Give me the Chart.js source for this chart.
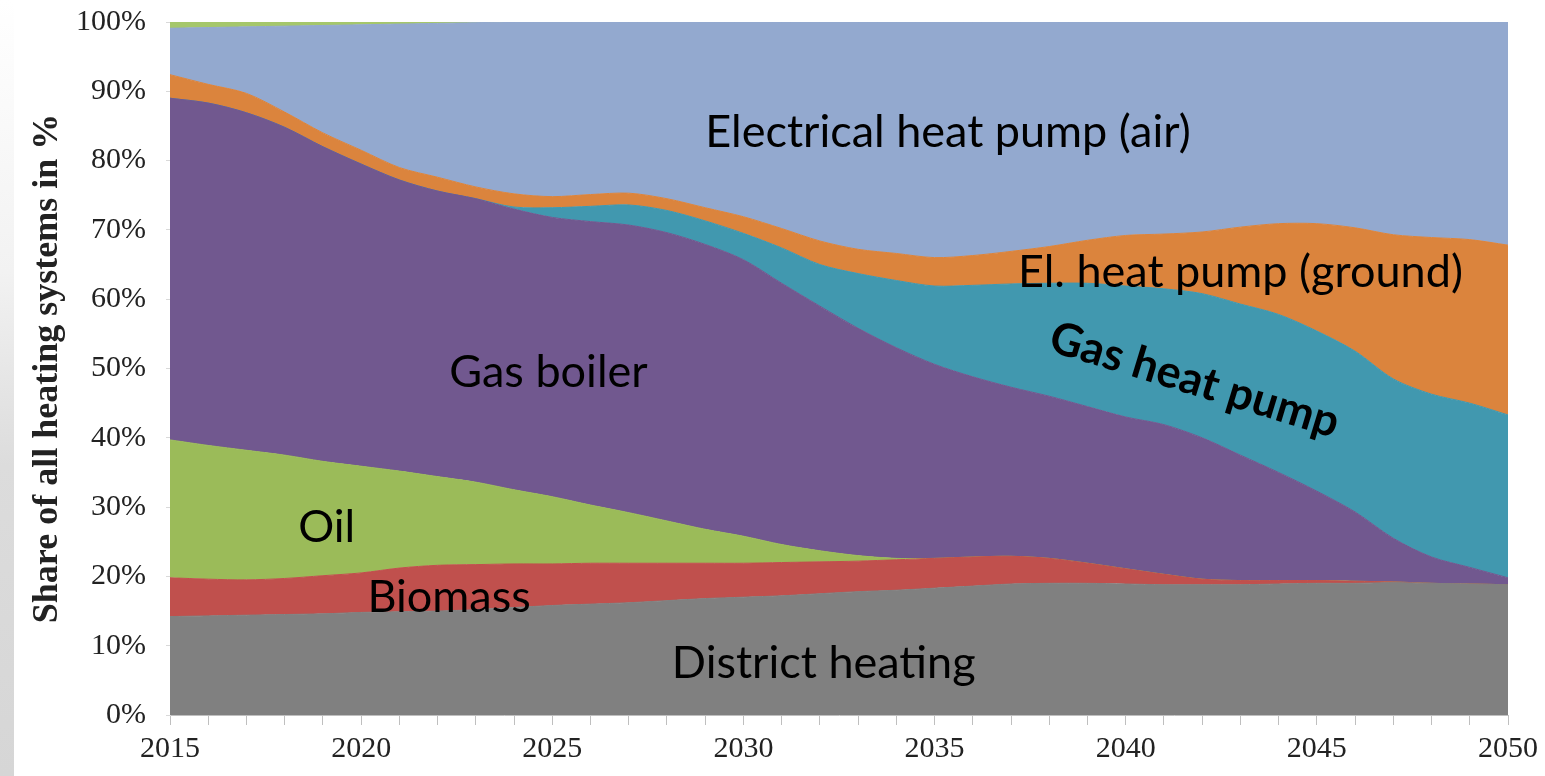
<!DOCTYPE html>
<html>
<head>
<meta charset="utf-8">
<script src="https://cdn.jsdelivr.net/npm/chart.js"></script>
<style>
  html, body { margin: 0; padding: 0; background: #fff; }
  .wrap { position: relative; width: 1545px; height: 776px; }
  .edge { position: absolute; left: 0; top: 0; width: 14px; height: 776px;
          background: linear-gradient(to bottom, #ffffff 0%, #f2f2f2 35%, #dcdcdc 60%, #d6d6d6 100%); }
  canvas { position: absolute; left: 0; top: 0; }
</style>
</head>
<body>
<div class="wrap">
  <div class="edge"></div>
  <canvas id="heating-chart" width="1545" height="776"></canvas>
</div>
<script>
// years 2015..2050
const years = [];
for (let y = 2015; y <= 2050; y++) years.push(y);

// shares in %
const districtHeating = [14.2,14.3,14.4,14.5,14.6,14.8,14.9,15.0,15.2,15.5,
                         15.8,16.0,16.2,16.5,16.8,17.0,17.2,17.5,17.8,18.0,
                         18.3,18.6,18.9,19.0,19.0,18.9,18.8,18.8,18.8,18.9,
                         19.0,19.0,19.1,19.0,18.9,18.8];
const biomass = [5.6,5.3,5.1,5.2,5.5,5.7,6.3,6.6,6.5,6.3,
                 6.0,5.9,5.7,5.4,5.1,4.9,4.8,4.6,4.4,4.4,
                 4.3,4.2,4.0,3.6,2.9,2.2,1.5,0.8,0.6,0.5,
                 0.4,0.3,0.1,0,0,0];
const oil = [19.9,19.3,18.7,17.8,16.5,15.4,14.0,12.8,11.9,10.7,
             9.7,8.4,7.3,6.1,4.9,3.9,2.6,1.6,0.8,0.2,
             0,0,0,0,0,0,0,0,0,0,
             0,0,0,0,0,0];
const gasBoiler = [49.3,49.4,48.7,47.3,45.4,43.6,42.0,41.2,40.9,40.5,
                   40.3,40.9,41.5,41.6,41.1,39.9,37.7,35.3,32.8,30.4,
                   28.0,26.0,24.4,23.4,22.6,21.9,21.6,20.4,18.1,15.6,
                   12.9,10.0,6.3,3.8,2.4,1.0];
const gasHeatPump = [0,0,0,0,0,0,0,0,0,0.3,
                     1.4,2.2,2.9,3.2,3.4,3.8,5.1,6.0,7.9,9.7,
                     11.3,13.2,14.9,16.3,17.8,18.9,19.6,20.8,21.8,22.8,
                     23.1,23.2,23.0,23.5,23.7,23.5];
const heatPumpGround = [3.4,2.7,2.8,2.2,2.0,2.0,1.8,2.0,1.7,1.9,
                        1.6,1.7,1.7,1.7,1.9,2.4,2.8,3.4,3.5,3.9,
                        4.1,4.3,4.7,5.3,6.2,7.3,7.9,8.9,11.1,13.1,
                        15.5,17.8,20.8,22.6,23.6,24.5];
const heatPumpAir = [6.7,8.2,9.6,12.4,15.5,18.1,20.7,22.2,23.7,24.8,
                     25.2,24.9,24.7,25.5,26.8,28.1,29.8,31.6,32.8,33.4,
                     34.0,33.7,33.1,32.4,31.5,30.8,30.6,30.3,29.6,29.1,
                     29.1,29.7,30.7,31.1,31.4,32.2];
const other = [0.9,0.8,0.7,0.6,0.5,0.4,0.3,0.2,0.1,0,
               0,0,0,0,0,0,0,0,0,0,
               0,0,0,0,0,0,0,0,0,0,
               0,0,0,0,0,0];

const yTicks = [0,10,20,30,40,50,60,70,80,90,100];

// text written on top of the areas: [text, year, share, angle, bold]
const areaLabels = [
  ['Electrical heat pump (air)', 2035.35, 84.1, 0, false],
  ['El. heat pump (ground)', 2043.0, 63.9, 0, false],
  ['Gas heat pump', 2041.8, 48.3, 17, true],
  ['Gas boiler', 2024.9, 49.4, 0, false],
  ['Oil', 2019.1, 27.0, 0, false],
  ['Biomass', 2022.3, 17.0, 0, false],
  ['District heating', 2032.1, 7.4, 0, false]
];

function area(label, data, color, fill) {
  return {
    label: label,
    data: data,
    backgroundColor: color,
    borderColor: color,
    borderWidth: 1,
    pointRadius: 0,
    tension: 0.3,
    fill: fill
  };
}

const labelPlugin = {
  id: 'areaLabels',
  afterDatasetsDraw(chart) {
    const ctx = chart.ctx;
    const xs = chart.scales.x, ys = chart.scales.y;
    ctx.save();
    ctx.fillStyle = '#000';
    ctx.textAlign = 'center';
    ctx.textBaseline = 'middle';
    areaLabels.forEach(([txt, yr, v, ang, bold]) => {
      const px = xs.getPixelForValue(yr - 2015);
      const py = ys.getPixelForValue(v);
      ctx.save();
      ctx.translate(px, py);
      ctx.rotate(ang * Math.PI / 180);
      ctx.font = (bold ? 'bold ' : '') + '45px Lato, "Open Sans", sans-serif';
      ctx.fillText(txt, 0, 0);
      ctx.restore();
    });
    ctx.restore();
  }
};

const serif = '"Liberation Serif", "Times New Roman", serif';

new Chart(document.getElementById('heating-chart'), {
  type: 'line',
  data: {
    labels: years,
    datasets: [
      area('District heating', districtHeating, '#808080', 'origin'),
      area('Biomass', biomass, '#C0504D', '-1'),
      area('Oil', oil, '#9BBB59', '-1'),
      area('Gas boiler', gasBoiler, '#71588F', '-1'),
      area('Gas heat pump', gasHeatPump, '#4198AF', '-1'),
      area('El. heat pump (ground)', heatPumpGround, '#DB843D', '-1'),
      area('Electrical heat pump (air)', heatPumpAir, '#93A9CF', '-1'),
      area('Other', other, '#A5C76B', '-1')
    ]
  },
  options: {
    responsive: false,
    animation: false,
    layout: { padding: { left: 0, top: 22, right: 37, bottom: 0 } },
    plugins: {
      legend: { display: false },
      tooltip: { enabled: false }
    },
    scales: {
      x: {
        offset: false,
        grid: { drawOnChartArea: false, drawTicks: true, tickLength: 10, color: '#bfbfbf' },
        border: { color: '#bfbfbf' },
        ticks: {
          autoSkip: false,
          maxRotation: 0,
          padding: 6,
          color: '#222',
          font: { family: serif, size: 30 },
          callback: function (val, i) {
            const yr = years[i];
            return yr % 5 === 0 ? String(yr) : '';
          }
        },
        afterFit(scale) { scale.height = 61; }
      },
      y: {
        stacked: true,
        min: 0,
        max: 100,
        afterBuildTicks(scale) { scale.ticks = yTicks.map(v => ({ value: v })); },
        grid: { drawOnChartArea: false, drawTicks: true, tickLength: 4, color: '#d9d9d9' },
        border: { color: '#d9d9d9' },
        ticks: {
          padding: 20,
          color: '#222',
          font: { family: serif, size: 30 },
          callback: v => v + '%'
        },
        title: {
          display: true,
          text: 'Share of all heating systems in %',
          color: '#222',
          padding: { top: 26, bottom: 0 },
          font: { family: serif, size: 36, weight: 'bold' }
        },
        afterFit(scale) {
          scale.width = 170;
          scale.paddingTop = 0;
          scale.paddingBottom = 0;
        }
      }
    }
  },
  plugins: [labelPlugin]
});
</script>
</body>
</html>
